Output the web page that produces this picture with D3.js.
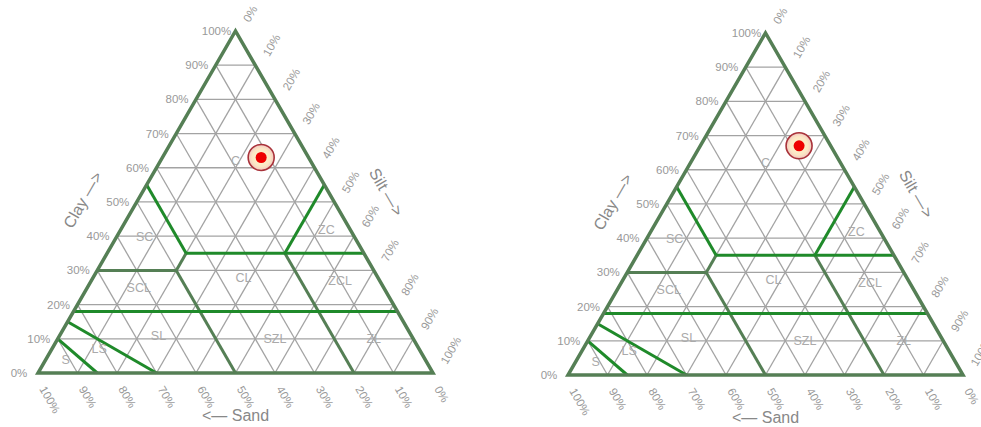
<!DOCTYPE html>
<html>
<head>
<meta charset="utf-8">
<script src="https://cdn.jsdelivr.net/npm/d3@7"></script>
<style>
  body { margin: 0; background: #fff; }
  svg text { font-family: "Liberation Sans", Arial, sans-serif; }
</style>
</head>
<body>
<svg id="chart" width="981" height="427"></svg>
<script>
// tick values (percent) used on all three sides
var tickValues = [0, 10, 20, 30, 40, 50, 60, 70, 80, 90, 100];
var gridValues = [10, 20, 30, 40, 50, 60, 70, 80, 90];

// class boundaries, each segment as [clay, silt] -> [clay, silt]
var brightLines = [
  [[55, 0], [35, 20]],     // sand 45 : SC / C
  [[35, 20], [35, 65]],    // clay 35
  [[55, 45], [35, 45]],    // silt 45 : C / ZC
  [[18, 0], [18, 82]],     // clay 18
  [[15, 0], [0, 30]],      // LS / SL
  [[10, 0], [0, 15]]       // S / LS
];
var darkLines = [
  [[30, 0], [30, 20]],     // clay 30 : SC / SCL
  [[35, 20], [30, 20]],    // silt 20
  [[30, 20], [0, 50]],     // sand 50
  [[35, 45], [0, 80]]      // sand 20
];

// texture class labels: name, clay, silt
var classNames = ["C", "SC", "ZC", "CL", "ZCL", "SCL", "SL", "SZL", "ZL", "LS", "S"];
var classClay  = [62, 40, 42, 28, 27, 25, 11, 10, 10, 7, 4];
var classSilt  = [19, 7, 52, 38, 63, 13, 25, 55, 80, 12, 5];

// sample point in each triangle: clay, silt
var sampleClay = [63, 67];
var sampleSilt = [25, 25];

var panels = [{ xL: 38, yB: 373 }, { xL: 568, yB: 375 }];
var W = 395;
var H = W * Math.sqrt(3) / 2;

var svg = d3.select("#chart");
var defs = svg.append("defs");
var grad = defs.append("radialGradient").attr("id", "halo");
grad.append("stop").attr("offset", "0%").attr("stop-color", "#fff8d0");
grad.append("stop").attr("offset", "70%").attr("stop-color", "#fbe6c4");
grad.append("stop").attr("offset", "100%").attr("stop-color", "#f3c6c0");

panels.forEach(function (p, idx) {
  var xs = d3.scaleLinear().domain([0, 100]).range([p.xL, p.xL + W]);
  var ys = d3.scaleLinear().domain([0, 100]).range([p.yB, p.yB - H]);
  function pt(clay, silt) { return [xs(silt + clay / 2), ys(clay)]; }
  var line = d3.line();
  var g = svg.append("g");

  // grid
  var grid = [];
  gridValues.forEach(function (v) {
    grid.push([pt(v, 0), pt(v, 100 - v)]);        // clay = v
    grid.push([pt(100 - v, 0), pt(0, 100 - v)]);  // sand = v
    grid.push([pt(100 - v, v), pt(0, v)]);        // silt = v
  });
  g.selectAll(".grid").data(grid).enter().append("path")
    .attr("d", line).attr("fill", "none")
    .attr("stroke", "#a3a3a3").attr("stroke-width", 1.3);

  // class boundaries
  g.selectAll(".dark").data(darkLines).enter().append("path")
    .attr("d", function (d) { return line([pt(d[0][0], d[0][1]), pt(d[1][0], d[1][1])]); })
    .attr("fill", "none").attr("stroke", "#557f55").attr("stroke-width", 3);
  g.selectAll(".bright").data(brightLines).enter().append("path")
    .attr("d", function (d) { return line([pt(d[0][0], d[0][1]), pt(d[1][0], d[1][1])]); })
    .attr("fill", "none").attr("stroke", "#1f8a2a").attr("stroke-width", 3);

  // outline
  g.append("path")
    .attr("d", line([pt(0, 0), pt(0, 100), pt(100, 0)]) + "Z")
    .attr("fill", "none").attr("stroke", "#557f55").attr("stroke-width", 3.5)
    .attr("stroke-linejoin", "miter");

  // class labels
  g.selectAll(".cls").data(classNames).enter().append("text")
    .attr("x", function (d, i) { return pt(classClay[i], classSilt[i])[0]; })
    .attr("y", function (d, i) { return pt(classClay[i], classSilt[i])[1]; })
    .attr("dy", "0.35em").attr("text-anchor", "middle")
    .attr("font-size", 12.5).attr("fill", "#aaa").text(function (d) { return d; });

  // tick labels
  var tg = g.append("g").attr("font-size", 11.5).attr("fill", "#999");
  tickValues.forEach(function (v) {
    var a = pt(v, 0);
    tg.append("text").attr("x", a[0] - 19).attr("y", a[1] + 4)
      .attr("text-anchor", "middle").text(v + "%");
    var b = pt(0, 100 - v);
    tg.append("text").attr("text-anchor", "start")
      .attr("transform", "translate(" + (b[0] + 1) + "," + (b[1] + 16) + ") rotate(60)")
      .text(v + "%");
    var c = pt(100 - v, v);
    tg.append("text").attr("text-anchor", "start")
      .attr("transform", "translate(" + (c[0] + 14) + "," + (c[1] - 8) + ") rotate(-60)")
      .text(v + "%");
  });

  // axis titles
  var at = g.append("g").attr("font-size", 16).attr("fill", "#888").attr("text-anchor", "middle");
  var sb = pt(0, 50);
  at.append("text").attr("x", sb[0]).attr("y", sb[1] + 48).text("<\u2014 Sand");
  var cl = pt(50, 0);
  at.append("text").attr("dy", "0.35em")
    .attr("transform", "translate(" + (cl[0] - 54) + "," + (cl[1] - 2) + ") rotate(-60)")
    .text("Clay \u2014>");
  var sl = pt(50, 50);
  at.append("text").attr("dy", "0.35em")
    .attr("transform", "translate(" + (sl[0] + 52) + "," + (sl[1] - 10) + ") rotate(60)")
    .text("Silt \u2014>");

  // sample
  var s = pt(sampleClay[idx], sampleSilt[idx]);
  g.append("circle").attr("cx", s[0]).attr("cy", s[1]).attr("r", 13)
    .attr("fill", "url(#halo)").attr("stroke", "#a8323a").attr("stroke-width", 1.6);
  g.append("circle").attr("cx", s[0]).attr("cy", s[1]).attr("r", 5.5).attr("fill", "#ee0000");
});
</script>
</body>
</html>
